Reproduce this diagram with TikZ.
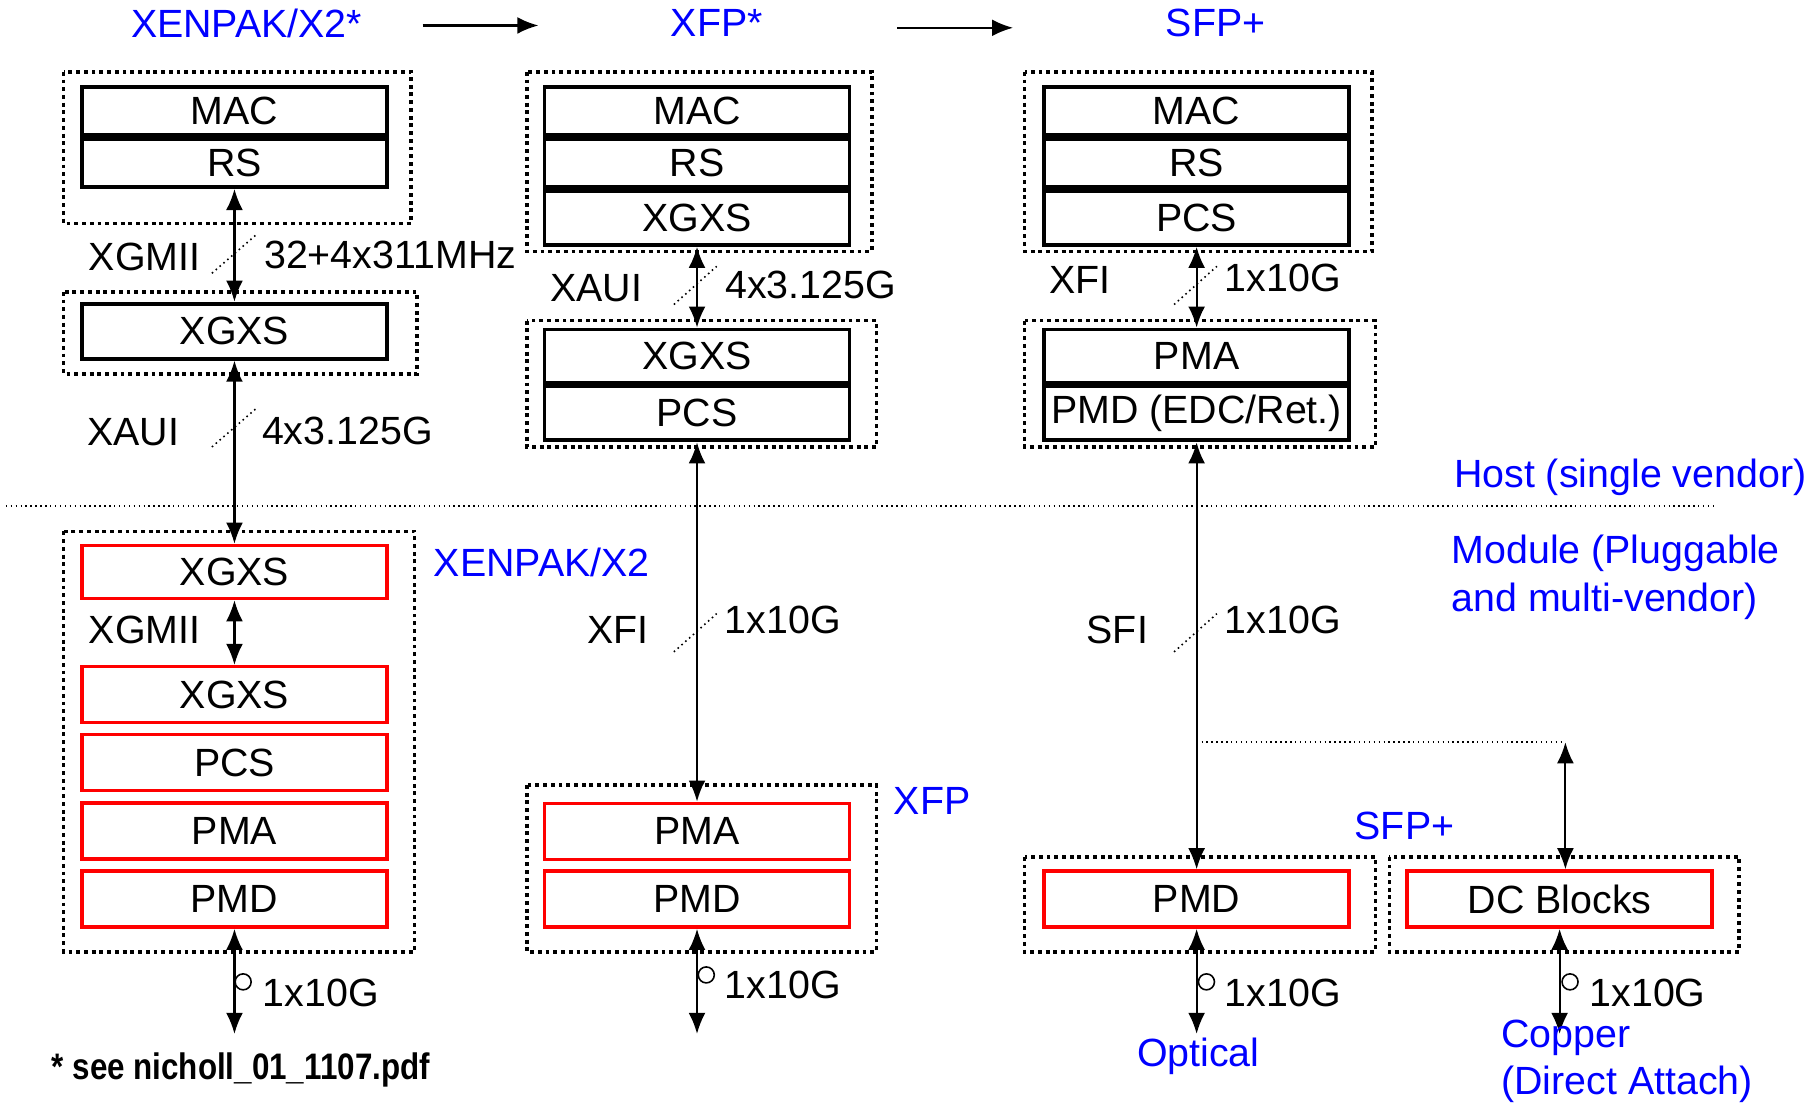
\documentclass[tikz,border=0pt]{standalone}
\usepackage{fontspec}
\usepackage{graphicx}
\setmainfont{Liberation Sans}
\usetikzlibrary{positioning,arrows.meta}

\definecolor{tagblue}{RGB}{0,0,255}

\tikzset{
  hostbox/.style={draw, line width=1.1pt, minimum width=3.05cm, minimum height=0.48cm, inner xsep=1pt, inner ysep=0pt},
  modbox/.style={draw=red, line width=1pt, minimum width=3.05cm, minimum height=0.56cm, inner xsep=1pt, inner ysep=0pt},
  grp/.style={line width=1pt, dash pattern=on 1.1pt off 1.1pt},
  biarrow/.style={<->, line width=0.6pt},
  slash/.style={line width=0.45pt, densely dotted},
  tag/.style={text=tagblue},
}

\begin{document}
\begin{tikzpicture}[x=0.01158cm, y=-0.01158cm, >={Latex[length=6pt,width=4.8pt]},
    font=\fontsize{11.2}{13.5}\selectfont]
    \useasboundingbox (0,0) rectangle (1565,953.5);

    % titles
    \node[tag] (t1) at (213,20) {XENPAK/X2*};
    \node[tag] (t2) at (619,20) {XFP*};
    \node[tag] (t3) at (1050,20) {SFP+};
    \coordinate (a1) at (365,22);
    \coordinate (a2) at (465,22);
    \coordinate (a3) at (775,24);
    \coordinate (a4) at (875,24);
    \draw[->, line width=0.6pt] (a1) -- (a2);
    \draw[->, line width=0.6pt] (a3) -- (a4);

    % host, XENPAK/X2
    \node[hostbox] (mac1) at (202.5,96) {MAC};
    \node[hostbox, below=0pt of mac1] (rs1) {RS};
    \node[hostbox, minimum height=0.55cm] (xgxs1) at (202.5,286) {XGXS};
    \draw[grp] (55,62) rectangle (355,193);
    \draw[grp] (55,252) rectangle (360,323);

    % host, XFP
    \node[hostbox] (mac2) at (602,96) {MAC};
    \node[hostbox, below=0pt of mac2] (rs2) {RS};
    \node[hostbox, minimum height=0.54cm, below=0pt of rs2] (xgxs2) {XGXS};
    \node[hostbox, minimum height=0.53cm] (xgxs2b) at (602,307.5) {XGXS};
    \node[hostbox, minimum height=0.54cm, below=0pt of xgxs2b] (pcs2) {PCS};
    \draw[grp] (455,62) rectangle (753,217);
    \draw[grp] (455,277) rectangle (757,386);

    % host, SFP+
    \node[hostbox] (mac3) at (1033.5,96) {MAC};
    \node[hostbox, below=0pt of mac3] (rs3) {RS};
    \node[hostbox, minimum height=0.54cm, below=0pt of rs3] (pcs3) {PCS};
    \node[hostbox, minimum height=0.53cm] (pma3) at (1033.5,307.5) {PMA};
    \node[hostbox, minimum height=0.54cm, below=0pt of pma3] (pmd3) {PMD (EDC/Ret.)};
    \draw[grp] (885,62) rectangle (1185,217);
    \draw[grp] (885,277) rectangle (1188,386);

    % host / module border
    \draw[line width=0.4pt, densely dotted] (5,437) -- (1482,437);
    \node[tag] (host) at (1408,412) {Host (single vendor)};
    \node[tag, align=left, anchor=west] (module) at (1243,498.5) {Module (Pluggable\\and multi-vendor)};

    % modules
    \node[modbox, minimum height=0.53cm] (mxgxs1) at (202.5,494) {XGXS};
    \node[modbox] (mxgxs2) at (202.5,600) {XGXS};
    \node[modbox] (mpcs1) at (202.5,658.5) {PCS};
    \node[modbox] (mpma1) at (202.5,717.5) {PMA};
    \node[modbox] (mpmd1) at (202.5,776.5) {PMD};
    \draw[grp] (55,459) rectangle (358,822);
    \node[tag] (xenpak) at (468,486) {XENPAK/X2};

    \node[modbox] (mpma2) at (602,718) {PMA};
    \node[modbox] (mpmd2) at (602,776.5) {PMD};
    \draw[grp] (455,678) rectangle (757,822);
    \node[tag] (xfp) at (805,692) {XFP};

    \node[modbox] (mpmd3) at (1033.5,776.5) {PMD};
    \node[modbox] (dcb) at (1347,776.5) {DC Blocks};
    \draw[grp] (885,740) rectangle (1188,822);
    \draw[grp] (1200,740) rectangle (1502,822);
    \node[tag] (sfpp) at (1213,713) {SFP+};

    % links
    \draw[biarrow] (rs1) -- (xgxs1);
    \draw[biarrow] (xgxs1) -- (mxgxs1);
    \draw[biarrow] (mxgxs1) -- (mxgxs2);
    \draw[biarrow] (xgxs2) -- (xgxs2b);
    \draw[biarrow] (pcs2) -- (mpma2);
    \draw[biarrow] (pcs3) -- (pma3);
    \draw[biarrow] (pmd3) -- (mpmd3);
    \coordinate (br1) at (1033.5,641);
    \coordinate (br2) at (1352,641);
    \draw[line width=0.4pt, densely dotted] (br1) -- (br2);
    \draw[biarrow] (br2) -- (br2 |- dcb.north);

    \node (xgmii1) at (125,222) {XGMII};
    \node (r1) at (337,220) {32+4x311MHz};
    \node (xaui1) at (115,373) {XAUI};
    \node (r2) at (300,372) {4x3.125G};
    \node (xaui2) at (515,249) {XAUI};
    \node (r3) at (700,246) {4x3.125G};
    \node (xfi3) at (933,242) {XFI};
    \node (r4) at (1108,240) {1x10G};
    \node (xgmii2) at (125,544) {XGMII};
    \node (xfi2) at (534,544) {XFI};
    \node (r5) at (676,535) {1x10G};
    \node (sfi) at (965,544) {SFI};
    \node (r6) at (1108,535) {1x10G};

    \draw[slash] (183,236) -- (221,203);
    \draw[slash] (183,386) -- (221,353);
    \draw[slash] (582,263) -- (619,230);
    \draw[slash] (1014,263) -- (1051,230);
    \draw[slash] (582,563) -- (619,530);
    \draw[slash] (1014,563) -- (1051,530);

    % line side
    \coordinate (o1) at (202.5,893);
    \coordinate (o2) at (602,893);
    \coordinate (o3) at (1033.5,893);
    \coordinate (o4) at (1347,893);
    \draw[biarrow] (mpmd1) -- (o1);
    \draw[biarrow] (mpmd2) -- (o2);
    \draw[biarrow] (mpmd3) -- (o3);
    \draw[biarrow] (dcb) -- (o4);
    \draw[line width=0.45pt] (210,848) circle (0.08cm);
    \draw[line width=0.45pt] (610,842) circle (0.08cm);
    \draw[line width=0.45pt] (1042,848) circle (0.08cm);
    \draw[line width=0.45pt] (1356,848) circle (0.08cm);
    \node (r7) at (277,858) {1x10G};
    \node (r8) at (676,851) {1x10G};
    \node (r9) at (1108,858) {1x10G};
    \node (r10) at (1423,858) {1x10G};
    \node[tag] (optical) at (1035,912) {Optical};
    \node[tag, align=left, anchor=west] (copper) at (1286,916.5) {Copper\\(Direct Attach)};

    \node (note) at (208,924) {\scalebox{0.85}[1]{\fontsize{10.5}{12}\selectfont\bfseries * see nicholl\_01\_1107.pdf}};
\end{tikzpicture}
\end{document}
